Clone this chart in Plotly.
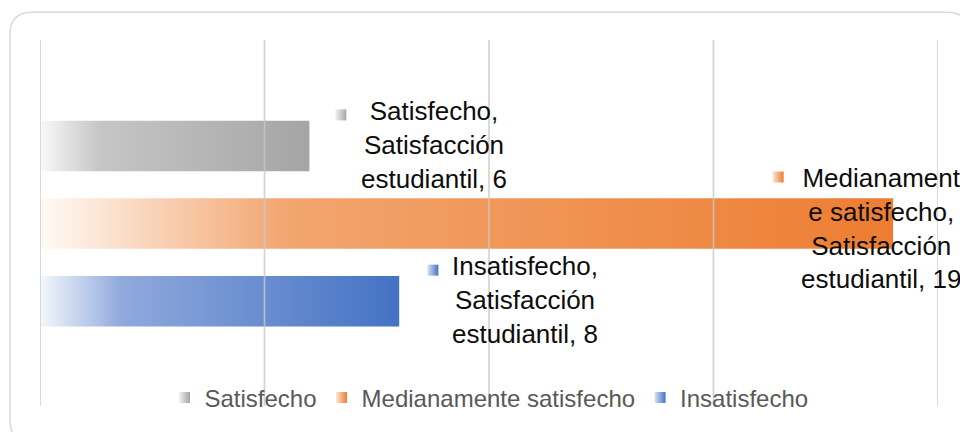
import plotly.graph_objects as go

# ---- data ----
categories = ["Satisfecho", "Medianamente satisfecho", "Insatisfecho"]
values = [6, 19, 8]
label_lines = [
    "Satisfecho,<br>Satisfacción<br>estudiantil, 6",
    "Medianament<br>e satisfecho,<br>Satisfacción<br>estudiantil, 19",
    "Insatisfecho,<br>Satisfacción<br>estudiantil, 8",
]
x_ticks = [0, 5, 10, 15, 20]

# ---- styles ----
gradients = [
    [[0, "#f9f9f9"], [0.22, "#c6c6c6"], [1, "#a5a5a5"]],
    [[0, "#fffaf6"], [0.29, "#f2a56f"], [1, "#ed7d31"]],
    [[0, "#f4f7fc"], [0.23, "#8fa9dc"], [1, "#4472c4"]],
]
light = ["#f2f2f2", "#fbe5d6", "#dae3f3"]
full = ["#a5a5a5", "#ed7d31", "#4472c4"]
label_xshift = [125, -12, 126]
label_yshift = [1, -5, 1]
key_dx = [0.70, -2.56, 0.75]
key_dy = [-0.40, -0.60, -0.40]
bar_half = 0.325

W, H = 960, 432
ML, MR, MT, MB = 40, 22, 40, 24
PW, PH = W - ML - MR, H - MT - MB


def px(x):
    return (x - ML) / PW


def py(y):
    return (H - MB - y) / PH


fig = go.Figure()

for i, (cat, v) in enumerate(zip(categories, values)):
    fig.add_trace(go.Scatter(
        x=[0, v, v, 0, 0],
        y=[i - bar_half, i - bar_half, i + bar_half, i + bar_half, i - bar_half],
        fill="toself", mode="lines", line=dict(width=0),
        fillgradient=dict(type="horizontal", colorscale=gradients[i]),
        showlegend=False, hoverinfo="skip",
    ))

for i, (cat, v) in enumerate(zip(categories, values)):
    fig.add_trace(go.Scatter(
        x=[v + key_dx[i]], y=[i + key_dy[i]], mode="markers", name=cat,
        marker=dict(symbol="square", size=11, color=light[i],
                    gradient=dict(type="horizontal", color=full[i]),
                    line=dict(width=0)),
        hoverinfo="skip",
    ))
    fig.add_annotation(
        x=v, y=i, xref="x", yref="y", text=label_lines[i], showarrow=False,
        xanchor="center", yanchor="middle", align="center",
        xshift=label_xshift[i], yshift=label_yshift[i],
        font=dict(family="Liberation Sans, Arial", size=26, color="#0d0d0d"),
    )

shapes = []
for t in x_ticks:
    shapes.append(dict(type="line", xref="x", yref="paper", x0=t, x1=t, y0=0, y1=1,
                       line=dict(color="rgba(200,200,200,0.8)", width=1.7), layer="above"))

# rounded outer border (page pixel coordinates converted to paper units)
x0, x1, y0, y1, r = 10, 969, 12, 445, 22
rx, ry = r / PW, r / PH
path = (f"M {px(x0)},{py(y0) - ry} Q {px(x0)},{py(y0)} {px(x0) + rx},{py(y0)} "
        f"L {px(x1) - rx},{py(y0)} Q {px(x1)},{py(y0)} {px(x1)},{py(y0) - ry} "
        f"L {px(x1)},{py(y1) + ry} Q {px(x1)},{py(y1)} {px(x1) - rx},{py(y1)} "
        f"L {px(x0) + rx},{py(y1)} Q {px(x0)},{py(y1)} {px(x0)},{py(y1) + ry} Z")
shapes.append(dict(type="path", xref="paper", yref="paper", path=path,
                   line=dict(color="#d9d9d9", width=1.5), layer="below"))

fig.update_layout(
    width=W, height=H,
    margin=dict(l=ML, r=MR, t=MT, b=MB),
    paper_bgcolor="white", plot_bgcolor="rgba(0,0,0,0)",
    font=dict(family="Liberation Sans, Arial", color="#595959"),
    xaxis=dict(range=[x_ticks[0], x_ticks[-1]], showgrid=False, zeroline=False,
               showticklabels=False, ticks="", showline=False),
    yaxis=dict(range=[3.35, -1.365], showgrid=False, zeroline=False,
               showticklabels=False, ticks="", showline=False),
    showlegend=True,
    legend=dict(orientation="h", x=0.5, xanchor="center", y=0.022, yanchor="middle",
                font=dict(size=24, color="#595959"), bgcolor="rgba(0,0,0,0)",
                itemwidth=30, tracegroupgap=0),
    shapes=shapes,
)

fig.write_html(
    "out.html",
    config={"displayModeBar": False},
    post_script="document.body.style.margin='0';document.body.style.overflow='hidden';",
)
